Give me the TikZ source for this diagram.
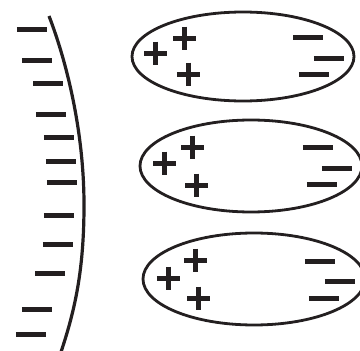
\documentclass[tikz,border=0pt]{standalone}
\definecolor{ink}{RGB}{35,31,32}
\tikzset{
  chargeminus/.pic={\draw[ink,line width=5pt] (-15,0)--(15,0);},
  chargeplus/.pic={\draw[ink,line width=5pt] (-11.5,0)--(11.5,0) (0,-11.5)--(0,11.5);},
  body/.style={draw=ink,line width=2.8pt},
}
\begin{document}
\begin{tikzpicture}[x=1pt,y=-1pt]
\useasboundingbox (0,0) rectangle (360,351);
% left charged body
\coordinate (ctop) at (49,16);
\coordinate (cmid) at (84,205);
\coordinate (cbot) at (61,352);
\draw[body,line width=3.2pt] (ctop) .. controls (66,60) and (84,130) .. (cmid)
  .. controls (84,270) and (75,310) .. (cbot);
\foreach \x/\y in {32/29,37/60,48.5/83,51/114,59/137,61/161,62/182,59/215,58/244,50.5/273,37/309,31/334}
  \pic at (\x,\y) {chargeminus};
% ellipses
\coordinate (e1) at (243,56.5);
\coordinate (e2) at (251,166);
\coordinate (e3) at (254,279);
\draw[body] (e1) ellipse [x radius=111, y radius=44.5];
\draw[body] (e2) ellipse [x radius=111, y radius=46];
\draw[body] (e3) ellipse [x radius=111, y radius=46];
\foreach \x/\y in {156/53,185/38,188.5/74, 165/163,193/147,197/185, 168.5/278,196/260,199/298}
  \pic at (\x,\y) {chargeplus};
\foreach \x/\y in {308.5/37,329/58,314/74, 318/147,337/168,322/184, 320/261,340/281,324/298}
  \pic at (\x,\y) {chargeminus};
\end{tikzpicture}
\end{document}
